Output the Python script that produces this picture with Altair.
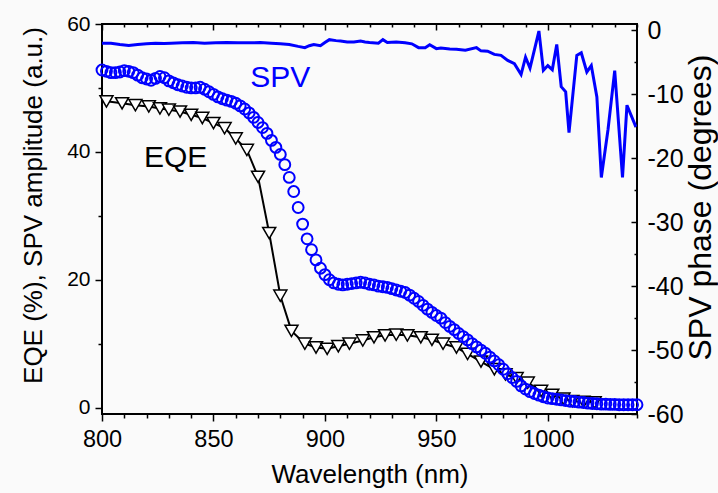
import altair as alt
import pandas as pd

# ---------------- data ----------------
eqe_nm = [802, 809, 815, 821, 826, 830, 835, 840, 845, 850, 855, 860, 865, 870, 875,
          880, 885, 891, 896, 901, 906, 911, 917, 922, 927, 932, 937, 943, 948, 953,
          959, 964, 970, 976, 981, 986, 991, 997, 1002, 1007, 1011, 1016, 1021]
eqe_val = [47.9, 47.6, 47.3, 47.1, 46.8, 46.6, 46.3, 45.8, 45.3, 44.5, 43.7, 42.1, 40.3, 36.1, 27.3,
           17.5, 12.0, 10.0, 9.4, 9.2, 9.6, 10.0, 10.5, 11.0, 11.3, 11.4, 11.3, 11.0, 10.6, 10.0,
           9.4, 8.4, 7.2, 6.0, 5.2, 4.6, 3.9, 2.6, 2.0, 1.4, 1.0, 0.9, 0.8]

spv_nm = [800, 802, 804, 806, 808, 810, 812, 814, 816, 818,
          820, 822, 824, 826, 828, 830, 832, 834, 836, 838,
          840, 842, 844, 846, 848, 850, 852, 854, 856, 858,
          860, 862, 864, 866, 868, 870, 872, 874, 876, 878,
          880, 882, 884, 886, 888, 890, 892, 894, 896, 898,
          900, 902, 904, 906, 908, 910, 912, 914, 916, 918,
          920, 922, 924, 926, 928, 930, 932, 934, 936, 938,
          940, 942, 944, 946, 948, 950, 952, 954, 956, 958,
          960, 962, 964, 966, 968, 970, 972, 974, 976, 978,
          980, 982, 984, 986, 988, 990, 992, 994, 996, 998,
          1000, 1002, 1004, 1006, 1008, 1010, 1012, 1014, 1016, 1018,
          1020, 1022, 1024, 1026, 1028, 1030, 1032, 1034, 1036, 1038, 1040]
spv_amp = [52.8, 52.6, 52.4, 52.4, 52.5, 52.7, 52.6, 52.4, 52.0, 51.6,
           51.4, 51.2, 51.5, 51.8, 51.6, 51.1, 50.8, 50.5, 50.3, 50.1,
           50.0, 50.0, 50.1, 49.8, 49.4, 49.0, 48.6, 48.3, 48.1, 47.9,
           47.6, 47.2, 46.7, 46.1, 45.4, 44.6, 43.8, 42.9, 41.8, 40.7,
           39.6, 38.0, 36.0, 33.8, 31.3, 28.7, 26.4, 24.7, 23.1, 21.8,
           20.8, 20.0, 19.5, 19.3, 19.2, 19.3, 19.4, 19.5, 19.6, 19.5,
           19.3, 19.2, 19.0, 18.9, 18.8, 18.6, 18.4, 18.2, 18.0, 17.6,
           17.1, 16.6, 16.0, 15.4, 14.9, 14.4, 14.0, 13.3, 12.7, 12.2,
           11.6, 11.1, 10.6, 10.0, 9.5, 9.0, 8.5, 7.9, 7.3, 6.7,
           6.0, 5.3, 4.7, 4.1, 3.4, 2.9, 2.5, 2.2, 1.95, 1.7,
           1.5, 1.4, 1.3, 1.2, 1.1, 1.0, 0.95, 0.85, 0.8, 0.7,
           0.65, 0.6, 0.55, 0.55, 0.5, 0.5, 0.45, 0.45, 0.45, 0.45, 0.45]

phase_nm = [800, 804, 808, 812, 816, 820, 824, 828, 831, 836, 841, 846, 851, 856, 861,
            866, 871, 876, 880, 884, 888, 891, 893, 895, 898, 900, 902, 905, 907, 910,
            913, 916, 918, 920, 924, 926, 928, 932, 936, 939, 942, 945, 947, 950, 952,
            956, 959, 963, 968, 970, 973, 976, 979, 982, 985, 988, 990, 992, 996, 998,
            1000, 1002, 1004, 1006, 1008, 1009.5, 1013, 1015, 1017.5, 1019.5, 1022, 1024,
            1027, 1030, 1033.5, 1035.5, 1039.5]
phase_deg = [-2.0, -2.0, -2.2, -2.35, -2.2, -2.1, -2.0, -2.05, -2.0, -1.95, -1.9, -2.0, -1.95, -1.9, -1.95,
             -1.95, -1.9, -2.0, -2.1, -2.2, -2.5, -2.7, -2.4, -2.2, -2.4, -1.9, -1.45, -1.6, -1.65, -1.8,
             -1.8, -1.65, -1.8, -1.9, -2.0, -1.45, -1.9, -1.8, -1.95, -2.1, -2.7, -2.7, -2.25, -2.85, -2.75,
             -2.9, -2.95, -3.1, -2.7, -3.2, -3.25, -3.75, -3.9, -4.7, -5.2, -6.9, -4.2, -5.9, -0.1, -6.25,
             -5.5, -6.15, -2.2, -8.8, -9.6, -16.0, -3.9, -3.5, -6.5, -5.5, -10.4, -23.0,
             -15.5, -6.3, -23.0, -11.7, -15.1]

label_text = ["SPV", "EQE"]
label_nm = [880, 833]
label_val = [50.2, 37.7]
label_color = ["#0000ff", "#000000"]

x_major = [800, 850, 900, 950, 1000]
x_minor = [810, 820, 830, 840, 860, 870, 880, 890, 910, 920, 930, 940, 960, 970, 980, 990,
           1010, 1020, 1030, 1040]
yl_major = [0, 20, 40, 60]
yl_minor = [10, 30, 50]
yr_major = [-60, -50, -40, -30, -20, -10, 0]
yr_minor = [-55, -45, -35, -25, -15, -5]

eqe_df = pd.DataFrame({"nm": eqe_nm, "v": eqe_val})
spv_df = pd.DataFrame({"nm": spv_nm, "v": spv_amp})
ph_df = pd.DataFrame({"nm": phase_nm, "v": phase_deg})
lab_df = pd.DataFrame({"nm": label_nm, "v": label_val, "t": label_text, "c": label_color})

# ---------------- styling ----------------
FONT = "Liberation Sans"
W, H = 535, 390
BG = "#fafafa"
BLUE = "#0000ff"

xs = alt.Scale(domain=[800, 1040], nice=False, zero=False)
yls = alt.Scale(domain=[-1, 60], nice=False, zero=False)
yrs = alt.Scale(domain=[-60, 1], nice=False, zero=False)

common = dict(domain=False, grid=False, tickColor="black", tickWidth=1.5)


def tick_axis(orient, values, size, offset=0):
    return alt.Axis(orient=orient, values=values, tickSize=size, labels=False, title=None,
                    offset=offset, **common)


x_bottom_major = alt.Axis(orient="bottom", values=x_major, tickSize=7, labelFontSize=23.5,
                          labelFont=FONT, labelColor="black", labelPadding=6, labelFlush=False,
                          labelOverlap=False, labelExpr="datum.value + ''",
                          title="Wavelength (nm)", titleFont=FONT,
                          titleFontSize=26, titleFontWeight="normal", titleColor="black",
                          titleBaseline="alphabetic", titleY=68, **common)
y_left_major = alt.Axis(orient="left", values=yl_major, tickSize=7, labelFontSize=21,
                        labelFont=FONT, labelColor="black", labelPadding=5, labelFlush=False,
                        labelOverlap=False, labelExpr="datum.value + ''",
                        title="EQE (%), SPV amplitude (a.u.)", titleFont=FONT,
                        titleFontSize=26, titleFontWeight="normal", titleColor="black",
                        titleAngle=270, titleBaseline="alphabetic", titleAlign="center",
                        titleX=-61, titleY=181, **common)
y_right_labels = alt.Axis(orient="right", values=yr_major, ticks=False, labelFontSize=25,
                          labelFont=FONT, labelColor="black", labelPadding=10, labelFlush=False,
                          labelOverlap=False, labelExpr="datum.value + ''",
                          title="SPV phase (degrees)", titleFont=FONT,
                          titleFontSize=32, titleFontWeight="normal", titleColor="black",
                          titleAngle=270, titleBaseline="alphabetic", titleAlign="center",
                          titleX=73, titleY=183, domain=False, grid=False)

eqe_line = alt.Chart(eqe_df).mark_line(color="black", strokeWidth=2).encode(
    x=alt.X("nm:Q", scale=xs, axis=x_bottom_major),
    y=alt.Y("v:Q", scale=yls, axis=y_left_major),
)
eqe_pts = alt.Chart(eqe_df).mark_point(shape="triangle-down", filled=True, fill="white",
                                       stroke="black", strokeWidth=1.5, size=170, opacity=1).encode(
    x=alt.X("nm:Q", scale=xs, axis=tick_axis("bottom", x_minor, 4)),
    y=alt.Y("v:Q", scale=yls, axis=tick_axis("left", yl_minor, 4)),
)
spv_pts = alt.Chart(spv_df).mark_point(shape="circle", filled=False, color=BLUE,
                                       strokeWidth=2, size=118, opacity=1).encode(
    x=alt.X("nm:Q", scale=xs, axis=tick_axis("bottom", x_major, 6, offset=-H)),
    y=alt.Y("v:Q", scale=yls, axis=None),
)
phase_line = alt.Chart(ph_df).mark_line(color=BLUE, strokeWidth=3).encode(
    x=alt.X("nm:Q", scale=xs, axis=tick_axis("bottom", x_minor, 3, offset=-H)),
    y=alt.Y("v:Q", scale=yrs, axis=y_right_labels),
)
ghost1 = alt.Chart(ph_df).mark_line(opacity=0).encode(
    x=alt.X("nm:Q", scale=xs, axis=None),
    y=alt.Y("v:Q", scale=yrs, axis=tick_axis("left", yr_major, 6, offset=-W)),
)
ghost2 = alt.Chart(ph_df).mark_line(opacity=0).encode(
    x=alt.X("nm:Q", scale=xs, axis=None),
    y=alt.Y("v:Q", scale=yrs, axis=tick_axis("left", yr_minor, 3, offset=-W)),
)
labels = alt.Chart(lab_df).mark_text(font=FONT, fontSize=30, align="center",
                                     baseline="alphabetic").encode(
    x=alt.X("nm:Q", scale=xs, axis=None),
    y=alt.Y("v:Q", scale=yls, axis=None),
    text="t:N",
    color=alt.Color("c:N", scale=None),
)

chart = alt.layer(eqe_line, eqe_pts, spv_pts, phase_line, ghost1, ghost2, labels).resolve_scale(
    y="independent"
).resolve_axis(x="independent", y="independent").properties(
    width=W, height=H,
    autosize=alt.AutoSizeParams(type="none"),
    padding={"left": 102, "top": 24, "right": 81, "bottom": 79},
    background=BG,
).configure_view(stroke="black", strokeWidth=2, fill=BG)

chart.save("out.html", embed_options={"renderer": "svg", "actions": False})
